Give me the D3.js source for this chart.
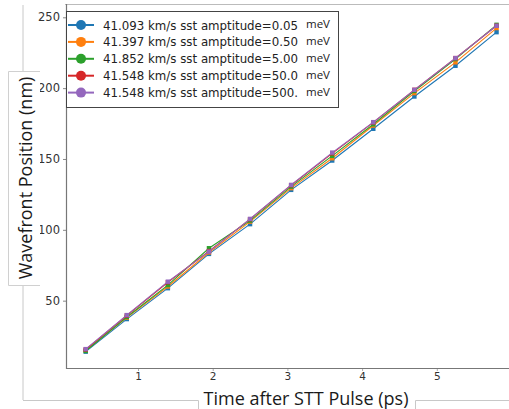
<!DOCTYPE html>
<html>
<head>
<meta charset="utf-8">
<script src="https://cdn.jsdelivr.net/npm/d3@7"></script>
<style>
  body { margin: 0; background: #fff; }
  svg { display: block; }
</style>
</head>
<body>
<svg id="chart" width="509" height="409"></svg>
<script>
// time after pulse (ps)
const times = [0.3, 0.85, 1.4, 1.95, 2.5, 3.05, 3.6, 4.15, 4.7, 5.25, 5.8];

const amp005 = [14, 37, 58.8, 83, 104, 128.2, 148.9, 171.3, 194.1, 215.8, 239.5];
const amp050 = [15, 38, 60, 84, 105.8, 129.4, 150.5, 173.6, 196.5, 218.2, 242.4];
const amp500 = [14.5, 38.5, 61, 87, 106.5, 130.5, 152.2, 174.5, 198, 220.5, 244.7];
const amp5000 = [15.5, 39.5, 63, 85, 107.5, 131.5, 154, 175.8, 198.8, 221.2, 244];
const amp50000 = [15.8, 39.8, 63.4, 84.6, 107.7, 131.7, 154.5, 176, 198.8, 221.2, 244];

const seriesLabels = [
    "41.093 km/s sst amptitude=0.05",
    "41.397 km/s sst amptitude=0.50",
    "41.852 km/s sst amptitude=5.00",
    "41.548 km/s sst amptitude=50.0",
    "41.548 km/s sst amptitude=500."
];
const colors = ["#1f77b4", "#ff7f0e", "#2ca02c", "#d62728", "#9467bd"];
const xTicks = [1, 2, 3, 4, 5];
const yTicks = [50, 100, 150, 200, 250];

const series = [amp005, amp050, amp500, amp5000, amp50000].map((vals, i) => ({
    label: seriesLabels[i],
    color: colors[i],
    points: vals.map((v, j) => ({ t: times[j], y: v }))
}));

const svg = d3.select("#chart");
const plot = { left: 66, right: 509, top: 4, bottom: 368 };

const x = d3.scaleLinear().domain([0, 6]).range([63.3, 511.5]);
const y = d3.scaleLinear().domain([0, 250]).range([371.5, 17.3]);

// slide decorations around the pasted figure
svg.append("line")
    .attr("x1", 23).attr("x2", 23).attr("y1", 5).attr("y2", 400)
    .attr("stroke", "#c8c8c8").attr("stroke-width", 1);
svg.append("path")
    .attr("d", "M23,400.5H198.5V409 M415.5,409V400.5H509")
    .attr("fill", "none").attr("stroke", "#c8c8c8").attr("stroke-width", 1);
svg.append("line")
    .attr("x1", 65).attr("x2", 509).attr("y1", 4.5).attr("y2", 4.5)
    .attr("stroke", "#bbbbbb").attr("stroke-width", 1);

svg.append("defs").append("clipPath").attr("id", "clip")
    .append("rect")
    .attr("x", plot.left).attr("y", plot.top)
    .attr("width", plot.right - plot.left).attr("height", plot.bottom - plot.top);

// axes
const yAxis = svg.append("g")
    .attr("transform", `translate(${plot.left},0)`)
    .call(d3.axisLeft(y).tickValues(yTicks).tickSize(3).tickPadding(3));
yAxis.select(".domain").remove();
yAxis.selectAll("line").attr("stroke", "#888");
yAxis.selectAll("text")
    .attr("fill", "#333")
    .style("font-family", "DejaVu Sans, sans-serif")
    .style("font-size", "11.5px");

const xAxis = svg.append("g")
    .attr("transform", `translate(0,${plot.bottom})`)
    .call(d3.axisBottom(x).tickValues(xTicks).tickFormat(d3.format("d")).tickSize(3).tickPadding(2));
xAxis.select(".domain").remove();
xAxis.selectAll("line").attr("stroke", "#aaa");
xAxis.selectAll("text")
    .attr("fill", "#333")
    .style("font-family", "DejaVu Sans, sans-serif")
    .style("font-size", "10.5px");

// spines
svg.append("path")
    .attr("d", `M${plot.left + 0.5},${plot.top}V${plot.bottom + 0.5}H${plot.right}`)
    .attr("fill", "none").attr("stroke", "#777").attr("stroke-width", 1.2);

// lines and markers
const line = d3.line().x(d => x(d.t)).y(d => y(d.y));
const g = svg.append("g").attr("clip-path", "url(#clip)");

series.forEach(s => {
    g.append("path")
        .datum(s.points)
        .attr("d", line)
        .attr("fill", "none")
        .attr("stroke", s.color)
        .attr("stroke-width", 1.1);
    g.selectAll(null)
        .data(s.points)
        .enter().append("rect")
        .attr("x", d => x(d.t) - 2.2)
        .attr("y", d => y(d.y) - 2.2)
        .attr("width", 4.4)
        .attr("height", 4.4)
        .attr("fill", s.color);
});

// legend
const legend = svg.append("g");
legend.append("rect")
    .attr("x", 66.5).attr("y", 11.5)
    .attr("width", 272).attr("height", 96)
    .attr("fill", "#fff").attr("stroke", "#444").attr("stroke-width", 1);

series.forEach((s, i) => {
    const ly = 25 + i * 16.9;
    legend.append("line")
        .attr("x1", 68).attr("x2", 94).attr("y1", ly).attr("y2", ly)
        .attr("stroke", s.color).attr("stroke-width", 2);
    legend.append("circle")
        .attr("cx", 81).attr("cy", ly).attr("r", 5)
        .attr("fill", s.color);
    legend.append("text")
        .attr("x", 103).attr("y", ly + 4.5)
        .attr("fill", "#222")
        .style("font-family", "DejaVu Sans, sans-serif")
        .style("font-size", "11.8px")
        .text(s.label);
    legend.append("text")
        .attr("x", 306).attr("y", ly + 3)
        .attr("fill", "#222")
        .style("font-family", "Open Sans, sans-serif")
        .style("font-size", "11.5px")
        .text("meV");
});

// axis titles in slide text boxes
svg.append("path")
    .attr("d", "M40,71.5H8.5V285.5H40")
    .attr("fill", "#fff").attr("stroke", "#d0d0d0").attr("stroke-width", 1);
svg.append("rect")
    .attr("x", 9).attr("y", 72).attr("width", 30).attr("height", 213)
    .attr("fill", "#fff");
svg.append("text")
    .attr("transform", "translate(32,178) rotate(-90)")
    .attr("text-anchor", "middle")
    .attr("fill", "#1a1a1a")
    .style("font-family", "Open Sans, sans-serif")
    .style("font-size", "18px")
    .text("Wavefront Position (nm)");

svg.append("rect")
    .attr("x", 199).attr("y", 385).attr("width", 216).attr("height", 24)
    .attr("fill", "#fff");
svg.append("text")
    .attr("x", 306).attr("y", 405)
    .attr("text-anchor", "middle")
    .attr("fill", "#1a1a1a")
    .style("font-family", "Open Sans, sans-serif")
    .style("font-size", "18px")
    .text("Time after STT Pulse (ps)");
</script>
</body>
</html>
